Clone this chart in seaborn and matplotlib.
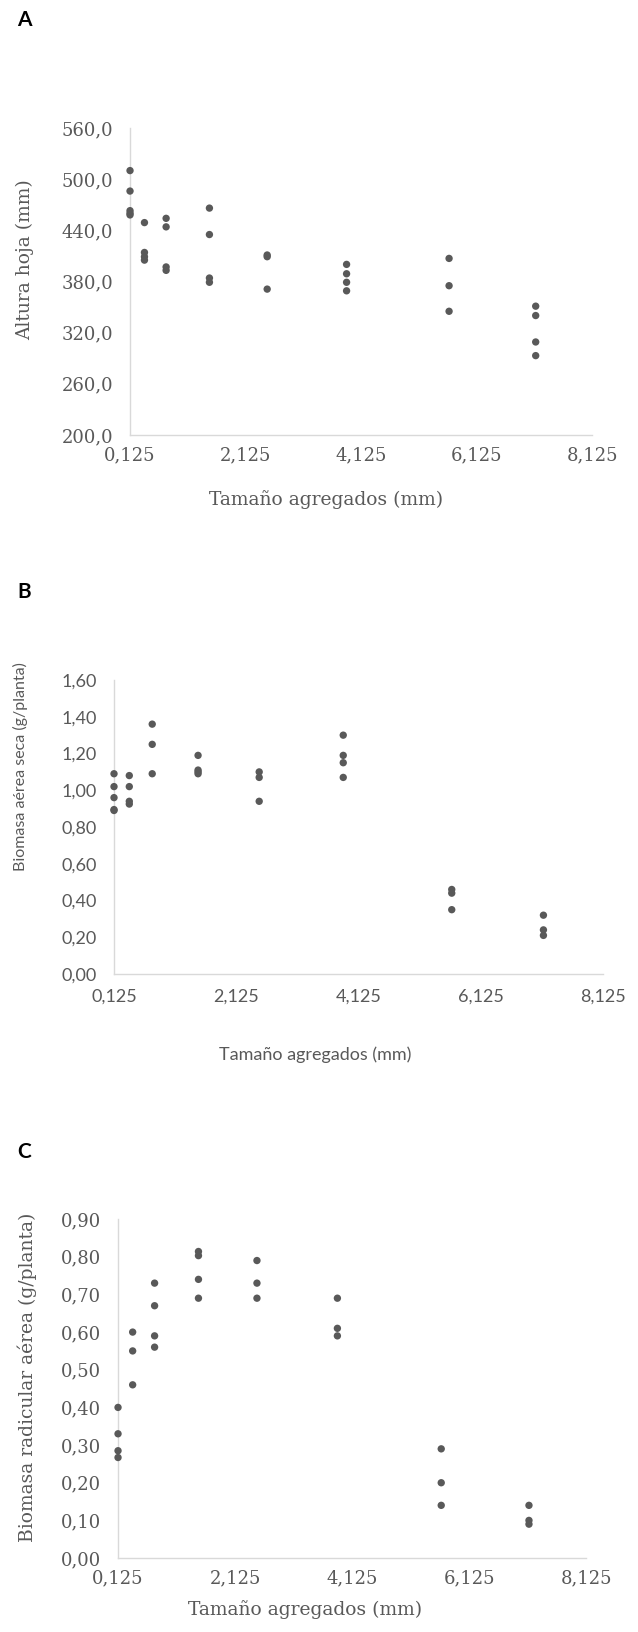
import numpy as np
import pandas as pd
import matplotlib
matplotlib.use("Agg")
import matplotlib.pyplot as plt
import seaborn as sns

sns.set_theme(style="white")

# ---- Data ----
# Aggregate size classes (mm), class midpoints
SIZES = [0.125, 0.375, 0.75, 1.5, 2.5, 3.875, 5.65, 7.15]

# A: leaf height (mm)
altura_x = [0.125] * 5 + [0.375] * 4 + [0.75] * 4 + [1.5] * 4 + [2.5] * 3 + [3.875] * 4 + [5.65] * 3 + [7.15] * 4
altura_y = [510, 486, 463, 460, 458,
            449, 414, 409, 405,
            454, 444, 397, 393,
            466, 435, 384, 379,
            411, 409, 371,
            400, 389, 379, 369,
            407, 375, 345,
            351, 340, 309, 293]

# B: dry aerial biomass (g/plant)
aerea_x = [0.125] * 5 + [0.375] * 4 + [0.75] * 3 + [1.5] * 4 + [2.5] * 3 + [3.875] * 4 + [5.65] * 3 + [7.15] * 3
aerea_y = [1.09, 1.02, 0.96, 0.895, 0.89,
           1.08, 1.02, 0.94, 0.925,
           1.36, 1.25, 1.09,
           1.19, 1.11, 1.10, 1.09,
           1.10, 1.07, 0.94,
           1.30, 1.19, 1.15, 1.07,
           0.46, 0.44, 0.35,
           0.32, 0.24, 0.21]

# C: root biomass (g/plant)
radicular_x = [0.125] * 4 + [0.375] * 3 + [0.75] * 4 + [1.5] * 4 + [2.5] * 3 + [3.875] * 3 + [5.65] * 3 + [7.15] * 3
radicular_y = [0.40, 0.33, 0.285, 0.267,
               0.60, 0.55, 0.46,
               0.73, 0.67, 0.59, 0.56,
               0.814, 0.803, 0.74, 0.69,
               0.79, 0.73, 0.69,
               0.69, 0.61, 0.59,
               0.29, 0.20, 0.14,
               0.14, 0.10, 0.09]

X_TICKS = [0.125, 2.125, 4.125, 6.125, 8.125]
X_TICKLABELS = ["0,125", "2,125", "4,125", "6,125", "8,125"]
X_LABEL = "Tamaño agregados (mm)"

DOT = "#595959"
TXT = "#595959"
AXC = "#d9d9d9"
SERIF = ["DejaVu Serif"]
SANS = ["Lato", "DejaVu Sans"]

fig = plt.figure(figsize=(6.38, 16.32), dpi=100)


def panel(rect, xs, ys, yticks, yfmt, ylabel, family, tick_fs, xlab_fs, ylab_fs,
          tick_len, xpad, ypad, xlab_pos, ylab_pos):
    ax = fig.add_axes(rect)
    df = pd.DataFrame({"x": xs, "y": ys})
    sns.scatterplot(data=df, x="x", y="y", ax=ax, color=DOT, s=28,
                    edgecolor="none", legend=False, clip_on=False, zorder=3)
    ax.set_xlim(X_TICKS[0], X_TICKS[-1])
    ax.set_ylim(yticks[0], yticks[-1])
    ax.set_xticks(X_TICKS)
    ax.set_xticklabels(X_TICKLABELS)
    ax.set_yticks(yticks)
    ax.set_yticklabels([yfmt(v).replace(".", ",") for v in yticks])
    for s in ["top", "right"]:
        ax.spines[s].set_visible(False)
    for s in ["left", "bottom"]:
        ax.spines[s].set_color(AXC)
        ax.spines[s].set_linewidth(1.0)
    ax.tick_params(axis="both", colors=AXC, labelcolor=TXT,
                   length=tick_len, width=1.0)
    ax.tick_params(axis="x", pad=xpad)
    ax.tick_params(axis="y", pad=ypad)
    for lab in ax.get_xticklabels() + ax.get_yticklabels():
        lab.set_family(family)
        lab.set_fontsize(tick_fs)
    ax.set_xlabel(X_LABEL, family=family, fontsize=xlab_fs, color=TXT, va="center")
    ax.set_ylabel(ylabel, family=family, fontsize=ylab_fs, color=TXT, va="center")
    ax.xaxis.set_label_coords(*xlab_pos)
    ax.yaxis.set_label_coords(*ylab_pos)
    ax.set_facecolor("white")
    return ax


axA = panel([0.2038, 0.7335, 0.7241, 0.1881], altura_x, altura_y,
            [200, 260, 320, 380, 440, 500, 560], lambda v: f"{v:.1f}",
            "Altura hoja (mm)", SERIF, 13, 13.5, 13.5,
            0, 8, 12, (0.424, -0.212), (-0.227, 0.570))
axB = panel([0.1787, 0.4032, 0.7665, 0.1801], aerea_x, aerea_y,
            [0.0, 0.2, 0.4, 0.6, 0.8, 1.0, 1.2, 1.4, 1.6], lambda v: f"{v:.2f}",
            "Biomasa aérea seca (g/planta)", SANS, 13, 13, 11.5,
            4.5, 6, 8, (0.411, -0.276), (-0.192, 0.707))
axC = panel([0.1850, 0.0453, 0.7335, 0.2077], radicular_x, radicular_y,
            [0.0, 0.1, 0.2, 0.3, 0.4, 0.5, 0.6, 0.7, 0.8, 0.9], lambda v: f"{v:.2f}",
            "Biomasa radicular aérea (g/planta)", SERIF, 13, 13.5, 13.5,
            0, 8, 12, (0.40, -0.153), (-0.194, 0.534))

# panel letters
for letter, ypix in [("A", 20), ("B", 592), ("C", 1152)]:
    fig.text(17 / 638, 1 - ypix / 1632, letter, family=SANS, fontsize=15,
             fontweight="bold", color="black", va="center", ha="left")

fig.savefig("out.png", dpi=100, facecolor="white")
